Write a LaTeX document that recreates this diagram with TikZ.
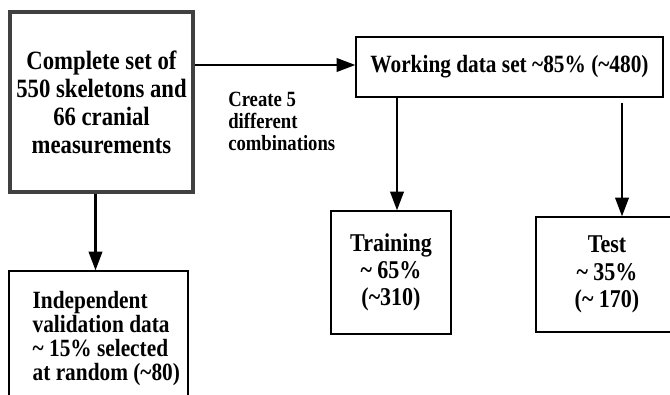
\documentclass[tikz,border=0pt]{standalone}
\usepackage{fontspec}
\setmainfont{Liberation Serif}[FakeStretch=0.86]
\usetikzlibrary{arrows.meta}
\tikzset{
  box/.style={draw, line width=0.9pt, inner sep=0pt, align=center,
    font=\bfseries\fontsize{19.2}{20.5}\selectfont},
  txt/.style={inner sep=0pt, align=left},
  arr/.style={line width=1.9pt, -{Triangle[length=14pt,width=10pt]}}
}

\begin{document}
\begin{tikzpicture}[x=0.75pt,y=-0.75pt]
    \useasboundingbox (0,0) rectangle (670,395);
    % boxes
    \node[box, line width=3pt, draw=black!75, minimum width=137.25pt, minimum height=135pt,
        font=\bfseries\fontsize{19.8}{21}\selectfont] (full) at (101.5,102)
        {Complete set of\\550 skeletons and\\66 cranial\\measurements};
    \node[box, minimum width=230.25pt, minimum height=45pt,
        font=\bfseries\fontsize{18.6}{20}\selectfont] (work) at (509.5,67)
        {Working data set \textasciitilde85\% (\textasciitilde480)};
    \node[box, minimum width=90pt, minimum height=92.25pt] (train) at (391,272.5)
        {Training\\\textasciitilde\ 65\%\\(\textasciitilde310)};
    \node[box, minimum width=106.5pt, minimum height=86.25pt] (test) at (607,274.5)
        {Test\\\textasciitilde\ 35\%\\(\textasciitilde\ 170)};
    \node[box, minimum width=134.25pt, minimum height=102pt] (valbox) at (98.5,339) {};
    \node[txt, anchor=west, font=\bfseries\fontsize{18.6}{18}\selectfont] (valtext)
        at ([shift={(24,0)}]valbox.west)
        {Independent\\validation data\\\textasciitilde\ 15\% selected\\at random (\textasciitilde80)};
    \node[txt, anchor=west, font=\bfseries\fontsize{16.3}{16.5}\selectfont] (combo) at (228,121)
        {Create 5\\different\\combinations};
    % connectors
    \draw[arr] ([shift={(0,-2)}]full.east |- work.west) -- ([shift={(0,-2)}]work.west);
    \draw[arr] ([shift={(-6,0)}]full.south) -- ([shift={(-6,0)}]full.south |- valbox.north);
    \draw[arr] ([shift={(6,0)}]train.north |- work.south) -- ([shift={(6,0)}]train.north);
    \draw[arr] ([shift={(15,5)}]test.north |- work.south) -- ([shift={(15,0)}]test.north);
\end{tikzpicture}
\end{document}
